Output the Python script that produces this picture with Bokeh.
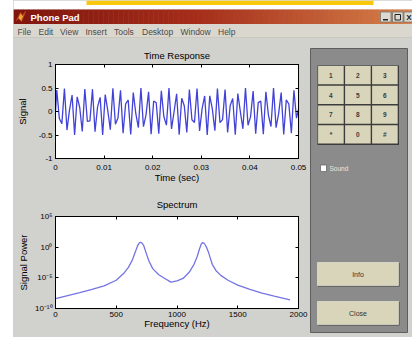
from bokeh.plotting import figure
from bokeh.layouts import row, column
from bokeh.models import (Range1d, FixedTicker, LinearAxis, LogAxis,
                          CustomJSTickFormatter, Spacer)
from bokeh.embed import file_html
from bokeh.resources import INLINE
from bokeh.core.properties import value

FONT = "Liberation Sans"
GUI_BG = "#d1d1cd"

# ---------------- data ----------------
time_sec = [
    0.0, 0.000262, 0.000787, 0.001312, 0.001837, 0.002361, 0.002886, 0.003411,
    0.003935, 0.004460, 0.004985, 0.005509, 0.006034, 0.006559, 0.007083, 0.007608,
    0.008133, 0.008658, 0.009182, 0.009707, 0.010232, 0.010756, 0.011281, 0.011806,
    0.012330, 0.012855, 0.013380, 0.013905, 0.014429, 0.014954, 0.015479, 0.016003,
    0.016528, 0.017053, 0.017577, 0.018102, 0.018627, 0.019152, 0.019676, 0.020201,
    0.020726, 0.021250, 0.021775, 0.022300, 0.022824, 0.023349, 0.023874, 0.024399,
    0.024923, 0.025448, 0.025973, 0.026497, 0.027022, 0.027547, 0.028071, 0.028596,
    0.029121, 0.029645, 0.030170, 0.030695, 0.031220, 0.031744, 0.032269, 0.032794,
    0.033318, 0.033843, 0.034368, 0.034892, 0.035417, 0.035942, 0.036466, 0.036991,
    0.037516, 0.038041, 0.038565, 0.039090, 0.039615, 0.040139, 0.040664, 0.041189,
    0.041713, 0.042238, 0.042763, 0.043288, 0.043812, 0.044337, 0.044862, 0.045386,
    0.045911, 0.046436, 0.046960, 0.047485, 0.048010, 0.048534, 0.049059, 0.049584,
    0.050000,
]
time_signal = [
    0.0, 0.456, -0.150, -0.258, 0.491, -0.395, 0.033, 0.351,
    -0.499, 0.312, 0.085, -0.425, 0.479, -0.211, -0.199, 0.475,
    -0.432, 0.099, 0.301, -0.498, 0.361, 0.019, -0.386, 0.494,
    -0.269, -0.136, 0.450, -0.462, 0.163, 0.245, -0.489, 0.403,
    -0.047, -0.341, 0.500, -0.323, -0.071, 0.417, -0.483, 0.224,
    0.186, -0.470, 0.439, -0.112, -0.290, 0.497, -0.370, -0.005,
    0.377, -0.496, 0.281, 0.123, -0.444, 0.467, -0.176, -0.233,
    0.486, -0.412, 0.061, 0.331, -0.500, 0.333, 0.057, -0.410,
    0.486, -0.236, -0.173, 0.466, -0.446, 0.126, 0.278, -0.495,
    0.380, -0.009, -0.368, 0.497, -0.292, -0.109, 0.437, -0.472,
    0.189, 0.221, -0.482, 0.419, -0.075, -0.320, 0.500, -0.343,
    -0.044, 0.401, -0.489, 0.248, 0.160, -0.460, 0.452, -0.140,
    0.05,
]
time_ticks = [0, 0.01, 0.02, 0.03, 0.04, 0.05]
time_tick_labels = ["0", "0.01", "0.02", "0.03", "0.04", "0.05"]
signal_ticks = [-1, -0.5, 0, 0.5, 1]
signal_tick_labels = ["-1", "-0.5", "0", "0.5", "1"]

spec_freq = [0, 100, 200, 300, 400, 500, 560, 600, 630, 655, 675, 690, 700, 710,
             725, 745, 770, 800, 850, 900, 950, 1000, 1050, 1100, 1140, 1165, 1185,
             1200, 1212, 1225, 1240, 1260, 1290, 1320, 1360, 1420, 1500, 1600, 1700,
             1800, 1930]
spec_power = [4.0e-9, 1.3e-8, 4.0e-8, 1.3e-7, 5.0e-7, 4.0e-6, 5.0e-5, 5.0e-4, 6.3e-3,
              0.13, 1.6, 5.0, 6.3, 5.0, 2.0, 0.13, 5.0e-3, 3.2e-4, 3.2e-5, 7.9e-6,
              2.0e-6, 3.2e-6, 7.9e-6, 7.9e-5, 1.6e-3, 2.5e-2, 0.5, 3.2, 5.6, 4.0, 1.3,
              0.13, 1.6e-3, 1.6e-4, 2.5e-5, 4.0e-6, 6.3e-7, 1.3e-7, 3.2e-8, 1.0e-8,
              2.5e-9]
freq_ticks = [0, 500, 1000, 1500, 2000]
freq_tick_labels = ["0", "500", "1000", "1500", "2000"]
power_ticks = [1e-10, 1e-5, 1e0, 1e5]
power_tick_labels = ["10\u207b\u00b9\u2070", "10\u207b\u2075", "10\u2070", "10\u2075"]

keypad_labels = ["1", "2", "3", "4", "5", "6", "7", "8", "9", "*", "0", "#"]
menu_items = ["File", "Edit", "View", "Insert", "Tools", "Desktop", "Window", "Help"]
window_title = "Phone Pad"

# GUI positions (screen pixels, not data)
menu_x = [4, 25, 46.5, 72, 100.5, 128.5, 167, 204.5]


# ---------------- helpers ----------------
def tick_formatter(ticks, labels):
    return CustomJSTickFormatter(args=dict(tk=list(ticks), lb=list(labels)), code="""
        for (let i = 0; i < tk.length; i++) {
            const t = tk[i];
            if (t === tick || Math.abs(t - tick) <= 1e-6 * Math.abs(t)) { return lb[i]; }
        }
        return '';
    """)


def blank_formatter():
    return CustomJSTickFormatter(code="return '';")


def style_axis(ax):
    ax.major_tick_in = 3
    ax.major_tick_out = 0
    ax.minor_tick_line_color = None
    ax.axis_line_color = "black"
    ax.major_tick_line_color = "black"
    ax.major_label_text_font = FONT
    ax.major_label_text_font_size = "8px"
    ax.major_label_text_color = "black"
    ax.axis_label_text_font = FONT
    ax.axis_label_text_font_size = "9.5px"
    ax.axis_label_text_font_style = "normal"
    ax.axis_label_text_color = "black"


def box_axis(p, place, cls, ticks):
    ax = cls(ticker=FixedTicker(ticks=ticks), formatter=blank_formatter())
    style_axis(ax)
    ax.major_label_standoff = 0
    ax.major_label_text_font_size = "1px"
    p.add_layout(ax, place)


def style_plot(p, title):
    p.title.text = title
    p.title.align = "center"
    p.title.text_font = FONT
    p.title.text_font_size = "9.5px"
    p.title.text_font_style = "normal"
    p.title.text_color = "black"
    p.background_fill_color = "white"
    p.border_fill_color = GUI_BG
    p.outline_line_color = "black"
    p.outline_line_width = 1
    p.grid.visible = False


def canvas(w, h, bg=GUI_BG):
    p = figure(width=w, height=h, x_range=Range1d(0, w), y_range=Range1d(h, 0),
               x_axis_type=None, y_axis_type=None, toolbar_location=None,
               output_backend="svg", min_border=0, title=None)
    p.grid.visible = False
    p.outline_line_color = None
    p.background_fill_color = bg
    p.border_fill_color = bg
    return p


# ---------------- time response ----------------
tp = figure(width=296, height=152, x_range=Range1d(0, 0.05), y_range=Range1d(-1, 1),
            toolbar_location=None, output_backend="svg",
            min_border_left=40, min_border_right=11, min_border_top=26, min_border_bottom=32)
style_plot(tp, "Time Response")
tp.title.standoff = 8
tp.line(time_sec, time_signal, line_color="#4242d8", line_width=1.3)
tp.xaxis.ticker = FixedTicker(ticks=time_ticks)
tp.xaxis.formatter = tick_formatter(time_ticks, time_tick_labels)
tp.yaxis.ticker = FixedTicker(ticks=signal_ticks)
tp.yaxis.formatter = tick_formatter(signal_ticks, signal_tick_labels)
tp.xaxis.axis_label = "Time (sec)"
tp.yaxis.axis_label = "Signal"
for ax in tp.xaxis + tp.yaxis:
    style_axis(ax)
tp.xaxis.major_label_standoff = 6
tp.xaxis.axis_label_standoff = -1
tp.yaxis.major_label_standoff = 3
tp.yaxis.axis_label_standoff = 8
box_axis(tp, "above", LinearAxis, time_ticks)
box_axis(tp, "right", LinearAxis, signal_ticks)

# ---------------- spectrum ----------------
sp = figure(width=296, height=147, x_range=Range1d(0, 2000), y_range=Range1d(1e-10, 1e5),
            y_axis_type="log", toolbar_location=None, output_backend="svg",
            min_border_left=40, min_border_right=11, min_border_top=26, min_border_bottom=29)
style_plot(sp, "Spectrum")
sp.title.standoff = 13
sp.line(spec_freq, spec_power, line_color="#7474e4", line_width=1.3)
sp.xaxis.ticker = FixedTicker(ticks=freq_ticks)
sp.xaxis.formatter = tick_formatter(freq_ticks, freq_tick_labels)
sp.yaxis.ticker = FixedTicker(ticks=power_ticks)
sp.yaxis.formatter = tick_formatter(power_ticks, power_tick_labels)
sp.xaxis.axis_label = "Frequency (Hz)"
sp.yaxis.axis_label = "Signal Power"
for ax in sp.xaxis + sp.yaxis:
    style_axis(ax)
sp.xaxis.major_label_standoff = 3
sp.xaxis.axis_label_standoff = -2
sp.yaxis.major_label_standoff = 3
sp.yaxis.axis_label_standoff = 3
box_axis(sp, "above", LinearAxis, freq_ticks)
box_axis(sp, "right", LogAxis, power_ticks)

# ---------------- window chrome (yellow banner, title bar, menu) ----------------
ch = canvas(399, 38)
ch.quad(left=[0], right=[399], top=[0], bottom=[9], fill_color="white", line_color=None)
ch.quad(left=[73], right=[360], top=[0], bottom=[4.5], fill_color="#f8c80c", line_color=None)
stops = [(0.0, (128, 22, 14)), (0.45, (165, 45, 26)), (1.0, (214, 128, 74))]
n = 80
lefts, rights, cols = [], [], []
for i in range(n):
    f = i / (n - 1)
    for (a, ca), (b, cb) in zip(stops[:-1], stops[1:]):
        if a <= f <= b:
            u = (f - a) / (b - a)
            c = tuple(int(ca[k] + (cb[k] - ca[k]) * u) for k in range(3))
            break
    lefts.append(399 * i / n)
    rights.append(399 * (i + 1) / n + 0.5)
    cols.append("#%02x%02x%02x" % c)
ch.quad(left=lefts, right=rights, top=[9] * n, bottom=[23.5] * n, fill_color=cols, line_color=None)
ch.quad(left=[0], right=[399], top=[23.5], bottom=[38], fill_color="#dad7cf", line_color=None)
ch.quad(left=[0], right=[399], top=[37], bottom=[38], fill_color="#bdbab2", line_color=None)
# matlab icon
ch.patch([3, 7, 9, 12, 8, 5], [20, 12, 15, 11, 21, 18], fill_color="#e9a33a", line_color="#b8401c", line_width=1)
ch.text(x=[17], y=[16.5], text=[window_title], text_font=value(FONT), text_font_size="9.5px",
        text_font_style="bold", text_color="white", text_baseline="middle")
# window buttons
ch.quad(left=[367, 379, 390.5], right=[377.5, 389.5, 401], top=[11.5, 11.5, 11.5], bottom=[21.5, 21.5, 21.5],
        fill_color="#dcd9d0", line_color="#7a7670", line_width=0.8)
ch.quad(left=[369.5], right=[374.5], top=[18.5], bottom=[20], fill_color="#222222", line_color=None)
ch.quad(left=[381.5], right=[387], top=[14], bottom=[19.5], fill_color=None, line_color="#222222", line_width=1)
ch.text(x=[395.5], y=[17], text=["X"], text_font=value(FONT), text_font_size="8px",
        text_font_style="bold", text_color="#222222", text_align="center", text_baseline="middle")
ch.text(x=menu_x, y=[31] * len(menu_items), text=menu_items, text_font=value(FONT),
        text_font_size="8.5px", text_color="#4a4a4a", text_baseline="middle")

# ---------------- keypad panel ----------------
pad = canvas(103, 299)
pad.quad(left=[1], right=[98], top=[10], bottom=[294], fill_color="#8b8b8b", line_color="#5e5e5e", line_width=1)
pad.quad(left=[8], right=[89.5], top=[27], bottom=[106.5], fill_color="#3c3c3c", line_color=None)
bl, br, bt, bb, tx, ty = [], [], [], [], [], []
for i, lab in enumerate(keypad_labels):
    r, c = divmod(i, 3)
    x0 = 8 + c * 27 + 0.6
    y0 = 27 + r * 19.75 + 0.6
    bl.append(x0); br.append(x0 + 25.6); bt.append(y0); bb.append(y0 + 18.2)
    tx.append(x0 + 12.8); ty.append(y0 + 9.3)
pad.quad(left=bl, right=br, top=bt, bottom=bb, fill_color="#d8d5ba", line_color=None)
pad.text(x=tx, y=ty, text=keypad_labels, text_font=value(FONT), text_font_size="6.5px",
         text_font_style="bold", text_color="#3a3a3a", text_align="center", text_baseline="middle")
# sound checkbox
pad.quad(left=[11], right=[17], top=[126.5], bottom=[133], fill_color="white", line_color="#6a6a6a", line_width=0.8)
pad.text(x=[20], y=[129.5], text=["Sound"], text_font=value(FONT), text_font_size="6.5px",
         text_color="#e6e6e6", text_baseline="middle")
# info / close buttons
pad.quad(left=[8.5, 8.5], right=[90, 90], top=[224.5, 263.5], bottom=[248, 287],
         fill_color="#444444", line_color=None)
pad.quad(left=[8, 8], right=[89, 89], top=[224, 263], bottom=[247, 286],
         fill_color="#d8d5ba", line_color="#eeeee0", line_width=0.6)
pad.text(x=[48.5, 48.5], y=[235.5, 274.5], text=["Info", "Close"], text_font=value(FONT),
         text_font_size="7px", text_color="#333333", text_align="center", text_baseline="middle")

plots = column(tp, sp, styles={"background-color": GUI_BG})
window = column(ch, row(plots, pad, styles={"background-color": GUI_BG}),
                styles={"background-color": GUI_BG})
layout = row(Spacer(width=13, height=337), window)

open("out.html", "w").write(file_html(layout, INLINE))
